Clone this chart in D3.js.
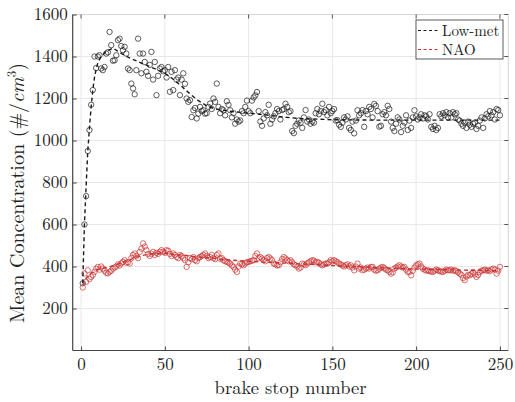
<!DOCTYPE html>
<html><head><meta charset="utf-8">
<script src="https://cdn.jsdelivr.net/npm/d3@7"></script>
<style>body{margin:0;background:#fff}svg{display:block}</style>
</head><body><svg id="c" width="515" height="402"></svg>
<script>
const xTicks=[0,50,100,150,200,250];
const yTicks=[200,400,600,800,1000,1200,1400,1600];
const seriesNames=["Low-met","NAO"];
const lowMet=[320,600,735,950,1050,1170,1240,1400,1345,1400,
1406,1343,1335,1350,1414,1420,1517,1454,1380,1382,
1406,1478,1485,1450,1430,1446,1414,1343,1335,1271,
1248,1220,1335,1485,1414,1320,1414,1374,1327,1308,
1360,1422,1290,1374,1216,1308,1343,1350,1330,1335,
1300,1350,1232,1327,1240,1335,1290,1300,1216,1290,
1320,1270,1200,1184,1192,1112,1144,1155,1105,1128,
1160,1140,1144,1128,1130,1160,1176,1150,1200,1184,
1271,1160,1130,1150,1144,1120,1187,1170,1144,1110,
1130,1080,1100,1090,1095,1140,1130,1160,1190,1140,
1130,1190,1205,1215,1231,1140,1090,1070,1105,1135,
1120,1170,1080,1100,1115,1130,1150,1140,1100,1145,
1150,1175,1160,1135,1140,1045,1035,1070,1080,1095,
1085,1060,1110,1145,1090,1100,1080,1090,1085,1130,
1150,1125,1140,1175,1135,1145,1120,1160,1130,1140,
1150,1095,1097,1075,1065,1085,1110,1100,1115,1060,
1050,1090,1034,1095,1144,1120,1130,1145,1065,1140,
1125,1160,1150,1110,1174,1165,1140,1066,1070,1125,
1135,1120,1165,1150,1090,1060,1045,1080,1110,1100,
1040,1070,1085,1120,1050,1095,1060,1110,1144,1115,
1100,1110,1125,1105,1120,1115,1100,1125,1065,1055,
1070,1050,1060,1125,1115,1130,1120,1135,1110,1130,
1110,1135,1125,1130,1100,1095,1080,1070,1085,1060,
1090,1075,1065,1080,1085,1055,1070,1095,1110,1060,
1105,1125,1115,1140,1120,1135,1100,1150,1145,1120];
const nao=[300,367,327,382,340,350,360,375,390,398,
385,400,390,380,370,367,375,380,390,395,
400,410,405,415,422,430,418,420,414,440,
455,462,450,440,470,485,510,495,478,460,
450,460,470,455,465,460,470,478,470,465,
478,475,460,450,462,455,445,440,455,450,
440,430,398,420,440,435,445,430,425,440,
445,450,455,462,450,440,445,455,440,435,
455,462,437,440,430,425,422,418,414,405,
398,385,374,400,414,410,406,415,420,422,
425,428,430,450,462,440,445,438,430,425,
440,445,438,430,414,410,405,406,420,435,
445,438,430,425,430,420,410,406,400,390,
395,414,410,406,415,420,425,430,428,420,
422,418,410,406,410,414,414,420,430,425,
430,425,420,414,410,405,400,406,410,400,
406,395,382,400,414,390,395,382,385,390,
395,390,398,398,385,380,382,390,395,398,
392,385,382,375,366,372,390,395,400,406,
400,395,398,385,374,374,358,380,395,406,
410,414,400,390,385,380,382,378,376,374,
380,385,382,378,376,374,380,385,382,382,
385,380,382,378,372,366,360,345,335,352,
360,358,365,374,362,350,360,374,380,382,
385,380,382,378,386,390,385,366,380,398];
const lowFitX=[1,2,3,4,5,6,7,8,9,10,12,15,19,22,26,30,35,40,45,50,55,60,65,70,75,80,90,100,110,120,130,150,175,200,225,250];
const lowFitY=[320,600,780,950,1060,1160,1240,1300,1340,1370,1400,1425,1440,1425,1405,1390,1372,1355,1338,1320,1292,1258,1222,1190,1165,1150,1138,1130,1122,1112,1105,1099,1097,1097,1097,1097];
const naoFitX=[1,3,5,10,15,20,25,30,35,40,45,50,60,70,80,90,100,125,150,175,200,225,250];
const naoFitY=[310,345,365,385,395,405,420,435,450,458,462,462,455,445,438,430,425,415,405,395,388,383,380];

const FF="Latin Modern Roman";
const svg=d3.select("#c");
const L=72.7,R=508.3,T=14.5,B=350.5;
const x=d3.scaleLinear().domain([-5,255]).range([L,R]);
const y=d3.scaleLinear().domain([0,1600]).range([B,T]);

svg.append("g").selectAll("line").data(xTicks).join("line")
 .attr("x1",d=>x(d)).attr("x2",d=>x(d)).attr("y1",T).attr("y2",B)
 .attr("stroke","#e8e8e8").attr("stroke-width",1);
svg.append("g").selectAll("line").data(yTicks).join("line")
 .attr("x1",L).attr("x2",R).attr("y1",d=>y(d)).attr("y2",d=>y(d))
 .attr("stroke","#e8e8e8").attr("stroke-width",1);
svg.append("path").attr("d",`M${L},${T}H${R}V${B}`).attr("fill","none").attr("stroke","#d4d4d4").attr("stroke-width",1);

const xa=svg.append("g").attr("transform",`translate(0,${B})`)
 .call(d3.axisBottom(x).tickValues(xTicks).tickFormat(d3.format("d")).tickSizeInner(-4).tickSizeOuter(0).tickPadding(7));
const ya=svg.append("g").attr("transform",`translate(${L},0)`)
 .call(d3.axisLeft(y).tickValues(yTicks).tickFormat(d3.format("d")).tickSizeInner(-4).tickSizeOuter(0).tickPadding(5));
[xa,ya].forEach(g=>{g.attr("font-family",FF).attr("font-size",17);
 g.select(".domain").attr("stroke","#444").attr("stroke-width",1.2);
 g.selectAll(".tick line").attr("stroke","#444");
 g.selectAll(".tick text").attr("fill","#222");});
ya.select(".domain").attr("d",`M0,${T}V${B}`);
xa.select(".domain").attr("d",`M${L},0H${R}`);
svg.append("g").selectAll("line").data(xTicks).join("line")
 .attr("x1",d=>x(d)).attr("x2",d=>x(d)).attr("y1",T).attr("y2",T+4).attr("stroke","#555");
svg.append("g").selectAll("line").data(yTicks).join("line")
 .attr("x1",R).attr("x2",R-4).attr("y1",d=>y(d)).attr("y2",d=>y(d)).attr("stroke","#555");

const black="#1a1a1a", red="#c83232";
const line=d3.line().x(d=>x(d[0])).y(d=>y(d[1]));
function pts(arr,col){
 svg.append("g").selectAll("circle").data(arr).join("circle")
  .attr("cx",(d,i)=>x(i+1)).attr("cy",d=>y(d)).attr("r",2.7)
  .attr("fill","none").attr("stroke",col).attr("stroke-width",0.7);
}
pts(lowMet,black);
pts(nao,red);
svg.append("path").datum(lowFitX.map((v,i)=>[v,lowFitY[i]])).attr("d",line)
 .attr("fill","none").attr("stroke",black).attr("stroke-width",1.4).attr("stroke-dasharray","4,3");
svg.append("path").datum(naoFitX.map((v,i)=>[v,naoFitY[i]])).attr("d",line)
 .attr("fill","none").attr("stroke",red).attr("stroke-width",1.4).attr("stroke-dasharray","4,3");

const lg=svg.append("g").attr("font-family",FF).attr("font-size",15);
lg.append("rect").attr("x",416).attr("y",20).attr("width",87).attr("height",39)
 .attr("fill","#fff").attr("stroke","#333").attr("stroke-width",0.8);
seriesNames.forEach((n,i)=>{
 const yy=30.5+i*19;
 lg.append("line").attr("x1",418).attr("x2",440).attr("y1",yy).attr("y2",yy)
  .attr("stroke",i?red:black).attr("stroke-width",1.2).attr("stroke-dasharray","3,2.5");
 lg.append("text").attr("x",442).attr("y",yy+5).attr("fill","#222").text(n);
});

svg.append("text").attr("x",290.5).attr("y",393.5).attr("text-anchor","middle").attr("font-family",FF).attr("font-size",18.5).attr("fill","#222").text("brake stop number");
const yl=svg.append("text").attr("transform","translate(24,193) rotate(-90)").attr("text-anchor","middle").attr("font-family",FF).attr("font-size",20).attr("fill","#222");
yl.append("tspan").text("Mean Concentration (#/");
yl.append("tspan").attr("font-style","italic").text("cm");
yl.append("tspan").attr("font-size",13).attr("dy",-8).text("3");
yl.append("tspan").attr("dy",8).text(")");
</script></body></html>
